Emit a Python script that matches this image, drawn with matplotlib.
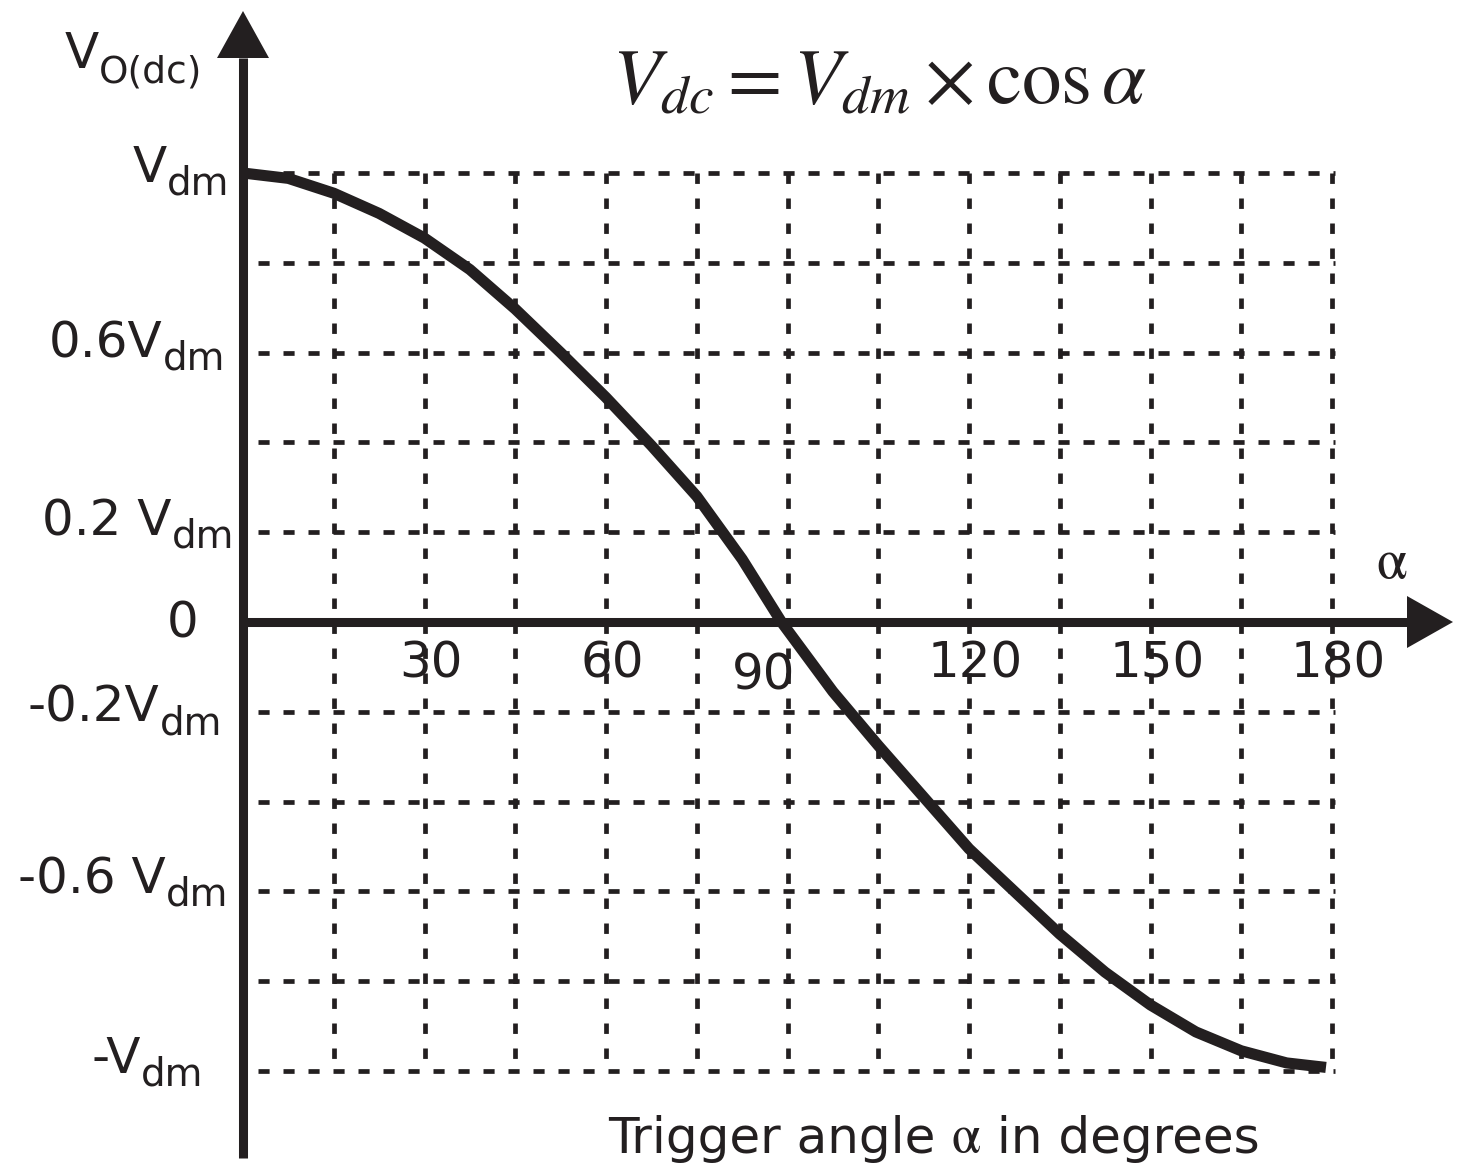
import numpy as np
import matplotlib
matplotlib.use('Agg')
import matplotlib.pyplot as plt

plt.rcParams['font.family'] = ['DejaVu Sans']
plt.rcParams['mathtext.fontset'] = 'stix'
plt.rcParams['lines.scale_dashes'] = False

ink = '#231f20'

# Vdc / Vdm
alpha_deg = [0, 7.5, 15, 22.5, 30, 37.5, 45, 52.5, 60, 67.5, 75, 82.5, 89,
             97.5, 105, 112.5, 120, 127.5, 135, 142.5, 150, 157.5, 165, 172.5, 179]
vdc = [1.0, 0.988, 0.955, 0.91, 0.855, 0.785, 0.697, 0.6, 0.5, 0.393, 0.28, 0.14, 0.0,
       -0.155, -0.275, -0.39, -0.505, -0.6, -0.695, -0.78, -0.853, -0.913, -0.955, -0.982, -0.992]

# grid
grid_deg = [15, 30, 45, 60, 75, 90, 105, 120, 135, 150, 165, 180]
grid_v = [1.0, 0.8, 0.6, 0.4, 0.2, -0.2, -0.4, -0.6, -0.8, -1.0]

# tick labels
xtick_vals = [30, 60, 90, 120, 150, 180]
xtick_text = ['30', '60', '90', '120', '150', '180']
ylab_base = ['V', '0.6V', '0.2 V', '0', '-0.2V', '-0.6 V', '-V']
ylab_sub = ['dm', 'dm', 'dm', '', 'dm', 'dm', 'dm']

# pixel layout of the original drawing
W, H = 1461, 1167
X0, SX = 243, 6.05     # x pixel of 0 deg, pixels per degree
Y0, SY = 622, 449      # y pixel of 0, pixels per Vdm


def px(x, y):
    return (x - X0) / SX, (Y0 - y) / SY


fig = plt.figure(figsize=(W / 100, H / 100), dpi=100)
ax = fig.add_axes([0, 0, 1, 1])
ax.set_xlim(-X0 / SX, (W - X0) / SX)
ax.set_ylim((Y0 - H) / SY, Y0 / SY)
ax.axis('off')

# dashed grid
for g in grid_deg:
    ax.plot([g, g], [grid_v[0], grid_v[-1]], color=ink, lw=3.4, dashes=[7.5, 10.5])
for g in grid_v:
    ax.plot([2.5, 180.5], [g, g], color=ink, lw=3.4, dashes=[8, 10])

# axes with arrow heads
ybot = px(0, 1158)[1]
ytop_base = px(0, 58)[1]
ytip = px(0, 11)[1]
xend_base = px(1407, 0)[0]
xtip = px(1453, 0)[0]
ax.plot([0, 0], [ybot, ytop_base], color=ink, lw=6.5, solid_capstyle='butt')
ax.plot([0, xend_base], [0, 0], color=ink, lw=6.5, solid_capstyle='butt')
hw_x = 26 / SX
hw_y = 26 / SY
ax.fill([-hw_x, hw_x, 0], [ytop_base, ytop_base, ytip], color=ink, lw=0)
ax.fill([xend_base, xend_base, xtip], [-hw_y, hw_y, 0], color=ink, lw=0)

# the curve
ax.plot(alpha_deg, vdc, color=ink, lw=8, solid_joinstyle='round', solid_capstyle='butt')

# x labels
for v, t in zip(xtick_vals, xtick_text):
    if v == 90:
        x, y = px(764, 690)
    else:
        x, y = v + 1.1, px(0, 678)[1]
    ax.text(x, y, t, ha='center', va='baseline', fontsize=36, color=ink)

# y labels
ylab_pos = [(133, 182), (49, 357), (42, 535), (167, 637), (28, 722), (18, 893), (91, 1073)]
for b, s, (lx, ly) in zip(ylab_base, ylab_sub, ylab_pos):
    t = ax.text(*px(lx, ly), b, ha='left', va='baseline', fontsize=36, color=ink)
    if s:
        ax.annotate(s, xy=(1, 0), xycoords=t, xytext=(0, -1.5), textcoords='offset points',
                    ha='left', va='baseline', fontsize=28, color=ink)

# y axis name
t = ax.text(*px(65, 68), 'V', ha='left', va='baseline', fontsize=36, color=ink)
ax.annotate('O(dc)', xy=(1, 0), xycoords=t, xytext=(0, -3), textcoords='offset points',
            ha='left', va='baseline', fontsize=27, color=ink)

# x axis name and formula
ax.text(*px(1392, 578), r'$\mathrm{\alpha}$', ha='center', va='baseline', fontsize=40, color=ink)
t1 = ax.text(*px(608, 1153), 'Trigger angle ', ha='left', va='baseline', fontsize=36, color=ink)
t2 = ax.annotate(r'$\mathrm{\alpha}$', xy=(1, 0), xycoords=t1, xytext=(0, 0),
                 textcoords='offset points', ha='left', va='bottom', fontsize=38, color=ink)
ax.annotate(' in degrees', xy=(1, 0), xycoords=t2, xytext=(0, 0), textcoords='offset points',
            ha='left', va='bottom', fontsize=36, color=ink)
ax.text(*px(612, 103), r'$V_{dc} = V_{dm} \times \cos\alpha$', ha='left', va='baseline',
        fontsize=57, color=ink)

fig.savefig('out.png', dpi=100, facecolor='white')
